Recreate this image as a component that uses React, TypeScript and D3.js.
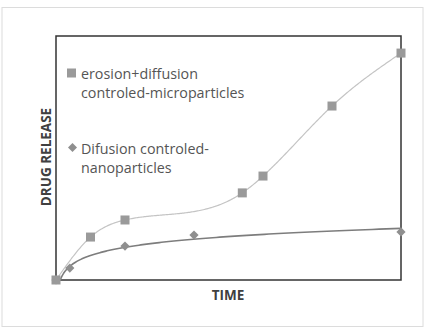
import React from "react";
import * as d3 from "d3";

// time values (arbitrary units) and drug release (%)
const microTime = [0, 1, 2, 5.4, 6, 8, 10];
const microRelease = [0, 17.6, 24.6, 35.7, 42.6, 71.3, 93];
const nanoTime = [0, 0.4, 2, 4, 10];
const nanoRelease = [0, 4.9, 13.9, 18.4, 19.7];

const microLabel = ["erosion+diffusion", "controled-microparticles"];
const nanoLabel = ["Difusion controled-", "nanoparticles"];

const W = 425;
const H = 328;
const box = { left: 56, right: 401, top: 36, bottom: 280 };

// logarithmic trendline, fitted on the nanoparticle points (t > 0)
function logFit(xs: number[], ys: number[]) {
  const pts = xs.map((x, i) => [Math.log(x), ys[i]]).filter((_, i) => xs[i] > 0);
  const mx = d3.mean(pts, p => p[0]) as number;
  const my = d3.mean(pts, p => p[1]) as number;
  const sxy = d3.sum(pts, p => (p[0] - mx) * (p[1] - my));
  const sxx = d3.sum(pts, p => (p[0] - mx) ** 2);
  const b = sxy / sxx;
  const a = my - b * mx;
  return { a, b };
}

// natural cubic spline y(x) through the points, used for the smoothed line
function naturalSpline(xs: number[], ys: number[]) {
  const n = xs.length;
  const h = d3.range(n - 1).map(i => xs[i + 1] - xs[i]);
  const s = d3.range(n - 1).map(i => (ys[i + 1] - ys[i]) / h[i]);
  const M = new Array(n).fill(0);
  // tridiagonal solve for inner second derivatives
  const m = n - 2;
  const diag: number[] = [];
  const rhs: number[] = [];
  for (let i = 1; i <= m; i++) {
    diag.push(2 * (h[i - 1] + h[i]));
    rhs.push(6 * (s[i] - s[i - 1]));
  }
  for (let k = 1; k < m; k++) {
    const w = h[k] / diag[k - 1];
    diag[k] -= w * h[k];
    rhs[k] -= w * rhs[k - 1];
  }
  for (let k = m - 1; k >= 0; k--) {
    const next = k + 1 < m ? M[k + 2] : 0;
    M[k + 1] = (rhs[k] - h[k + 1] * next) / diag[k];
  }
  return (x: number) => {
    let i = 0;
    while (i < n - 2 && x > xs[i + 1]) i++;
    const a = xs[i + 1] - x;
    const b = x - xs[i];
    const hi = h[i];
    return (
      (M[i] * a ** 3) / (6 * hi) +
      (M[i + 1] * b ** 3) / (6 * hi) +
      (ys[i] / hi - (M[i] * hi) / 6) * a +
      (ys[i + 1] / hi - (M[i + 1] * hi) / 6) * b
    );
  };
}

export default function App() {
  const x = d3.scaleLinear().domain([0, 10]).range([box.left, box.right]);
  const y = d3.scaleLinear().domain([0, 100]).range([box.bottom, box.top]);

  const spline = naturalSpline(microTime, microRelease);
  const microTimes = d3.range(0, 301).map(i => (i / 300) * 10);
  const microLine = d3
    .line<number>()
    .x(t => x(t))
    .y(t => y(spline(t)));

  const { a, b } = logFit(nanoTime, nanoRelease);
  const t0 = Math.exp(-a / b);
  const trendTimes = d3.range(0, 201).map(i => t0 * Math.pow(10 / t0, i / 200));
  const trend = d3
    .line<number>()
    .x(t => x(t))
    .y(t => y(Math.max(0, a + b * Math.log(t))));

  const font = "'Open Sans', sans-serif";
  const sq = 9;
  const dm = 6.5;

  return (
    <svg width={W} height={H} style={{ position: "absolute", left: 0, top: 0 }}>
      <rect x={0} y={0} width={W} height={H} fill="#fff" />
      <rect x={2} y={7.5} width={421} height={319} fill="#fff" stroke="#dcdcdc" strokeWidth={1} />
      <rect
        x={box.left}
        y={box.top}
        width={box.right - box.left}
        height={box.bottom - box.top}
        fill="none"
        stroke="#333"
        strokeWidth={1.5}
      />
      <path d={microLine(microTimes) || ""} fill="none" stroke="#c4c4c4" strokeWidth={1.2} />
      <path d={trend(trendTimes) || ""} fill="none" stroke="#7d7d7d" strokeWidth={1.6} />
      {nanoRelease.map((v, i) => (
        <rect
          key={"n" + i}
          x={-dm / 2}
          y={-dm / 2}
          width={dm}
          height={dm}
          fill="#8f8f8f"
          transform={`translate(${x(nanoTime[i])},${y(v)}) rotate(45)`}
        />
      ))}
      {microRelease.map((v, i) => (
        <rect
          key={"m" + i}
          x={x(microTime[i]) - sq / 2}
          y={y(v) - sq / 2}
          width={sq}
          height={sq}
          fill="#9a9a9a"
        />
      ))}

      {/* legend */}
      <rect x={67} y={68.5} width={9} height={9} fill="#9a9a9a" />
      <text fontFamily={font} fontSize={14.3} fill="#555">
        <tspan x={81} y={78.5}>{microLabel[0]}</tspan>
        <tspan x={81} y={97.5}>{microLabel[1]}</tspan>
      </text>
      <rect x={-3.2} y={-3.2} width={6.4} height={6.4} fill="#8f8f8f" transform="translate(72.5,147.5) rotate(45)" />
      <text fontFamily={font} fontSize={14.3} fill="#555">
        <tspan x={81} y={154}>{nanoLabel[0]}</tspan>
        <tspan x={81} y={172.5}>{nanoLabel[1]}</tspan>
      </text>

      {/* axis titles */}
      <text x={228} y={300} textAnchor="middle" fontFamily={font} fontWeight="bold" fontSize={13.5} fill="#404040">
        TIME
      </text>
      <text
        transform="translate(51,157) rotate(-90)"
        textAnchor="middle"
        fontFamily={font}
        fontWeight="bold"
        fontSize={13.5}
        fill="#404040"
      >
        DRUG RELEASE
      </text>
    </svg>
  );
}
